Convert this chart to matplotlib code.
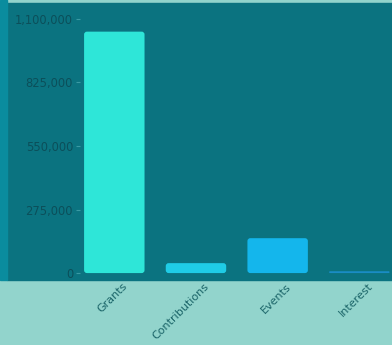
import matplotlib.pyplot as plt
from matplotlib.patches import FancyBboxPatch, Rectangle
from matplotlib.transforms import ScaledTranslation

categories = ['Grants', 'Contributions', 'Events', 'Interest']
values = [1045000, 43000, 151000, 8000]
colors = ['#2ee6d8', '#1fcce6', '#14b6ec', '#1a8cc4']
yticks = [0, 275000, 550000, 825000, 1100000]
ytick_labels = ['0', '275,000', '550,000', '825,000', '1,100,000']

W, H = 392, 345
fig = plt.figure(figsize=(W / 100, H / 100), dpi=100)
fig.patch.set_facecolor('#92d4cc')

# dark panel behind the axes + left strip
fig.add_artist(Rectangle((7 / W, 1 - 280 / H), 1 - 7 / W, 277 / H,
                         transform=fig.transFigure, color='#0b7380', zorder=0))
fig.add_artist(Rectangle((0, 1 - 280 / H), 7 / W, 280 / H, transform=fig.transFigure,
                         color='#0a8c9e', zorder=0))

ax = fig.add_axes([80 / W, 1 - 280 / H, 1 - 80 / W, 277 / H])
ax.set_facecolor('#0b7380')
ax.set_xlim(-0.42, 3.40)
ax.set_ylim(-30000, 1169000)

bars = ax.bar(range(len(categories)), values, width=0.74, color=colors)
# swap plain rectangles for slightly rounded ones
aspect = (1199000 / 277) / (3.82 / 312)
for b, c in zip(bars, colors):
    b.set_visible(False)
    r = min(0.035, b.get_height() / aspect / 2)
    p = FancyBboxPatch((b.get_x(), b.get_y()), b.get_width(), b.get_height(),
                       boxstyle=f'round,pad=0,rounding_size={r}',
                       mutation_aspect=aspect, facecolor=c, edgecolor='none')
    ax.add_patch(p)

ax.set_yticks(yticks)
ax.set_yticklabels(ytick_labels)
ax.set_xticks(range(len(categories)))
ax.set_xticklabels(categories, rotation=45, ha='right', rotation_mode='anchor')
ax.tick_params(axis='y', labelsize=8.3, labelcolor='#0c4f5a', color='#3a9aa4',
               length=3, pad=2)
ax.tick_params(axis='x', labelsize=8, labelcolor='#1a6468', length=0, pad=1)
shift = ScaledTranslation(8 / 100, 0, fig.dpi_scale_trans)
for lbl in ax.get_xticklabels():
    lbl.set_transform(lbl.get_transform() + shift)
for s in ax.spines.values():
    s.set_visible(False)

fig.savefig('out.png', dpi=100, facecolor=fig.get_facecolor())
